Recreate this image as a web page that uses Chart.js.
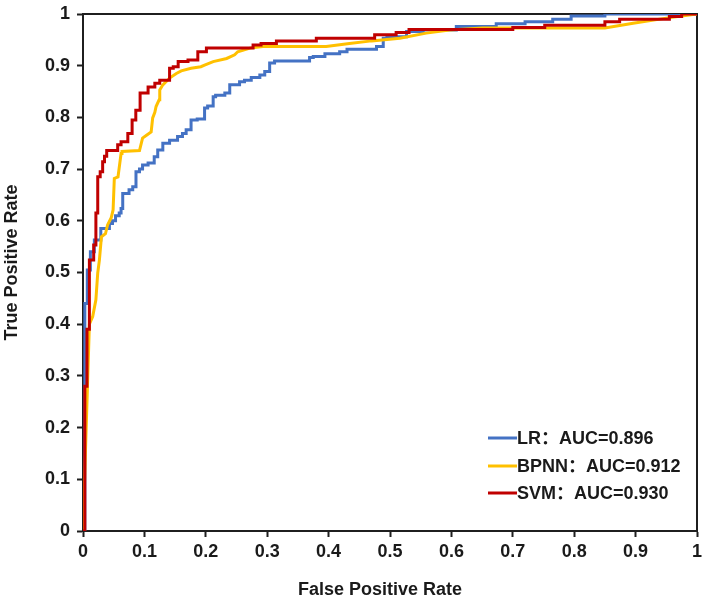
<!DOCTYPE html>
<html>
<head>
<meta charset="utf-8">
<script src="https://cdn.jsdelivr.net/npm/chart.js@4.4.0/dist/chart.umd.min.js"></script>
<style>
    html, body { margin: 0; padding: 0; background: #ffffff; }
    #wrap { width: 708px; height: 604px; }
</style>
</head>
<body>
<div id="wrap"><canvas id="rocCanvas" width="708" height="604"></canvas></div>
<script>
// ROC curves (false positive rate / true positive rate)
const seriesNames = ['LR：AUC=0.896', 'BPNN：AUC=0.912', 'SVM：AUC=0.930'];
const seriesColors = ['#4472C4', '#FFC000', '#C00000'];

const lrFpr = [0, 0.003, 0.007, 0.012, 0.0185, 0.029, 0.043, 0.048, 0.053, 0.059, 0.062, 0.0647, 0.075, 0.081, 0.0863, 0.092, 0.097, 0.106, 0.116, 0.1217, 0.130, 0.141, 0.154, 0.162, 0.168, 0.176, 0.186, 0.198, 0.203, 0.212, 0.216, 0.231, 0.239, 0.255, 0.263, 0.274, 0.288, 0.296, 0.304, 0.312, 0.369, 0.375, 0.394, 0.418, 0.43, 0.478, 0.489, 0.495, 0.527, 0.554, 0.608, 0.673, 0.72, 0.765, 0.795, 0.85, 1];
const lrTpr = [0, 0.44, 0.505, 0.54, 0.563, 0.585, 0.595, 0.60, 0.61, 0.615, 0.624, 0.653, 0.66, 0.666, 0.695, 0.70, 0.708, 0.712, 0.724, 0.737, 0.75, 0.756, 0.763, 0.769, 0.776, 0.795, 0.797, 0.818, 0.822, 0.840, 0.843, 0.847, 0.863, 0.869, 0.872, 0.877, 0.882, 0.889, 0.905, 0.909, 0.916, 0.918, 0.923, 0.927, 0.932, 0.937, 0.953, 0.956, 0.966, 0.969, 0.976, 0.981, 0.985, 0.990, 0.996, 1.0, 1];

const bpnnFpr = [0, 0.0104, 0.0158, 0.021, 0.024, 0.0267, 0.030, 0.0366, 0.040, 0.046, 0.049, 0.051, 0.057, 0.062, 0.0635, 0.092, 0.097, 0.104, 0.111, 0.1135, 0.117, 0.119, 0.124, 0.125, 0.13, 0.141, 0.152, 0.160, 0.176, 0.192, 0.198, 0.212, 0.234, 0.247, 0.252, 0.272, 0.293, 0.396, 0.434, 0.47, 0.516, 0.559, 0.597, 0.651, 0.85, 0.896, 0.95, 1];
const bpnnTpr = [0, 0.40, 0.415, 0.447, 0.499, 0.524, 0.569, 0.575, 0.592, 0.606, 0.621, 0.682, 0.685, 0.730, 0.734, 0.736, 0.76, 0.766, 0.772, 0.799, 0.81, 0.821, 0.834, 0.853, 0.863, 0.876, 0.885, 0.89, 0.895, 0.898, 0.901, 0.908, 0.914, 0.921, 0.927, 0.934, 0.937, 0.937, 0.943, 0.948, 0.953, 0.963, 0.969, 0.973, 0.973, 0.982, 0.992, 1];

const svmFpr = [0, 0.003, 0.0065, 0.0104, 0.0174, 0.021, 0.024, 0.028, 0.032, 0.035, 0.0386, 0.0565, 0.062, 0.073, 0.080, 0.086, 0.093, 0.106, 0.117, 0.125, 0.141, 0.147, 0.155, 0.171, 0.187, 0.201, 0.277, 0.29, 0.315, 0.38, 0.475, 0.51, 0.531, 0.70, 0.752, 0.85, 0.874, 0.955, 0.975, 1];
const svmTpr = [0, 0.28, 0.39, 0.524, 0.553, 0.615, 0.685, 0.695, 0.714, 0.725, 0.736, 0.747, 0.753, 0.769, 0.795, 0.814, 0.847, 0.859, 0.866, 0.872, 0.895, 0.898, 0.908, 0.911, 0.927, 0.934, 0.940, 0.943, 0.948, 0.953, 0.960, 0.964, 0.970, 0.974, 0.978, 0.985, 0.990, 0.995, 1.0, 1];

const tickLabels = ['0', '0.1', '0.2', '0.3', '0.4', '0.5', '0.6', '0.7', '0.8', '0.9', '1'];

function toPoints(xs, ys) {
    return xs.map((x, i) => ({ x: x, y: ys[i] }));
}

const axisColor = '#1f1f1f';
const textColor = '#1a1a1a';
const boldFont = { family: 'Arial, "Liberation Sans", sans-serif', size: 18, weight: 'bold' };

// frame on top and right, like the other two axis lines
const framePlugin = {
    id: 'frameBox',
    beforeDatasetsDraw(chart) {
        const { ctx, chartArea: a } = chart;
        ctx.save();
        ctx.strokeStyle = axisColor;
        ctx.lineWidth = 2;
        ctx.beginPath();
        ctx.moveTo(a.left, a.top);
        ctx.lineTo(a.right, a.top);
        ctx.lineTo(a.right, a.bottom);
        ctx.stroke();
        ctx.restore();
    }
};

// legend in the lower right corner: short line followed by the label
const cornerLegend = {
    id: 'cornerLegend',
    afterDraw(chart) {
        const ctx = chart.ctx;
        const rowY = [438, 466, 493];
        ctx.save();
        ctx.font = 'bold 18px Arial, "Liberation Sans", "Noto Sans CJK SC", sans-serif';
        ctx.textBaseline = 'middle';
        ctx.textAlign = 'left';
        chart.data.datasets.forEach((ds, i) => {
            ctx.strokeStyle = ds.borderColor;
            ctx.lineWidth = 3;
            ctx.beginPath();
            ctx.moveTo(488, rowY[i]);
            ctx.lineTo(517, rowY[i]);
            ctx.stroke();
            ctx.fillStyle = textColor;
            ctx.fillText(ds.label, 517, rowY[i] + 1);
        });
        ctx.restore();
    }
};

const chart = new Chart(document.getElementById('rocCanvas').getContext('2d'), {
    type: 'line',
    data: {
        datasets: [
            { label: seriesNames[0], data: toPoints(lrFpr, lrTpr), borderColor: seriesColors[0], stepped: 'before', order: 2 },
            { label: seriesNames[1], data: toPoints(bpnnFpr, bpnnTpr), borderColor: seriesColors[1], order: 1 },
            { label: seriesNames[2], data: toPoints(svmFpr, svmTpr), borderColor: seriesColors[2], stepped: 'before', order: 0 }
        ]
    },
    options: {
        responsive: false,
        animation: false,
        parsing: false,
        layout: { padding: { left: 0, top: 14, right: 11, bottom: 0 } },
        elements: {
            point: { radius: 0 },
            line: { borderWidth: 3, tension: 0, fill: false }
        },
        plugins: {
            legend: { display: false },
            tooltip: { enabled: false }
        },
        scales: {
            x: {
                type: 'linear',
                min: 0,
                max: 1,
                afterFit: (s) => { s.height = 73; },
                ticks: {
                    stepSize: 0.1,
                    color: textColor,
                    font: boldFont,
                    padding: 4,
                    maxRotation: 0,
                    callback: (v, i) => tickLabels[i]
                },
                grid: { drawOnChartArea: false, drawTicks: true, tickLength: 6, tickWidth: 2, tickColor: axisColor },
                border: { display: true, color: axisColor, width: 2 },
                title: { display: true, text: 'False Positive Rate    ', color: textColor, font: boldFont, padding: { top: 0, bottom: 3 } }
            },
            y: {
                type: 'linear',
                min: 0,
                max: 1,
                afterFit: (s) => {
                    s.width = 83;
                    // the top label may stick out; keep the plot top where the picture has it
                    s.paddingTop = 0;
                    s.paddingBottom = 0;
                },
                ticks: {
                    stepSize: 0.1,
                    color: textColor,
                    font: boldFont,
                    padding: 7,
                    callback: (v, i) => tickLabels[i]
                },
                grid: { drawOnChartArea: false, drawTicks: true, tickLength: 6, tickWidth: 2, tickColor: axisColor },
                border: { display: true, color: axisColor, width: 2 },
                title: { display: true, text: '    True Positive Rate', color: textColor, font: boldFont, padding: { top: 1, bottom: 0 } }
            }
        }
    },
    plugins: [framePlugin, cornerLegend]
});
</script>
</body>
</html>
